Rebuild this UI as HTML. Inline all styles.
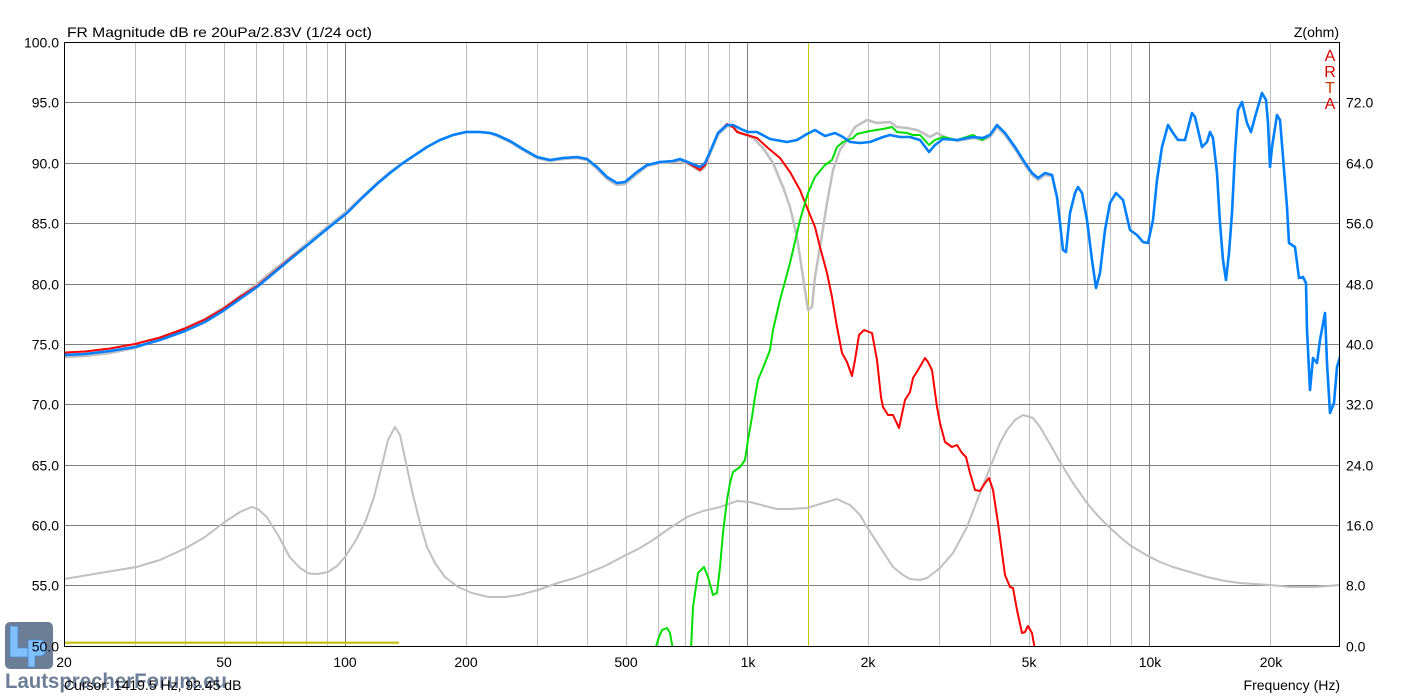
<!DOCTYPE html>
<html><head><meta charset="utf-8"><style>
html,body{margin:0;padding:0;background:#fff;}
svg{display:block;}
text{font-family:"Liberation Sans",Arial,sans-serif;}
</style></head><body>
<svg width="1404" height="697" viewBox="0 0 1404 697" xmlns="http://www.w3.org/2000/svg">
<defs><clipPath id="pc"><rect x="65" y="43" width="1275" height="603"/></clipPath></defs>
<rect width="1404" height="697" fill="#fff"/>
<!-- minor vertical grid -->
<g stroke="#c0c0c0" stroke-width="1">
<line x1="135.5" y1="43" x2="135.5" y2="646"/><line x1="185.5" y1="43" x2="185.5" y2="646"/><line x1="224.5" y1="43" x2="224.5" y2="646"/><line x1="256.5" y1="43" x2="256.5" y2="646"/><line x1="283.5" y1="43" x2="283.5" y2="646"/><line x1="306.5" y1="43" x2="306.5" y2="646"/><line x1="327.5" y1="43" x2="327.5" y2="646"/>
<line x1="466.5" y1="43" x2="466.5" y2="646"/><line x1="537.5" y1="43" x2="537.5" y2="646"/><line x1="587.5" y1="43" x2="587.5" y2="646"/><line x1="626.5" y1="43" x2="626.5" y2="646"/><line x1="658.5" y1="43" x2="658.5" y2="646"/><line x1="685.5" y1="43" x2="685.5" y2="646"/><line x1="708.5" y1="43" x2="708.5" y2="646"/><line x1="729.5" y1="43" x2="729.5" y2="646"/>
<line x1="868.5" y1="43" x2="868.5" y2="646"/><line x1="939.5" y1="43" x2="939.5" y2="646"/><line x1="990.5" y1="43" x2="990.5" y2="646"/><line x1="1029.5" y1="43" x2="1029.5" y2="646"/><line x1="1060.5" y1="43" x2="1060.5" y2="646"/><line x1="1087.5" y1="43" x2="1087.5" y2="646"/><line x1="1110.5" y1="43" x2="1110.5" y2="646"/><line x1="1131.5" y1="43" x2="1131.5" y2="646"/>
<line x1="1270.5" y1="43" x2="1270.5" y2="646"/>
</g>
<g stroke="#808080" stroke-width="1">
<line x1="345.5" y1="43" x2="345.5" y2="646"/><line x1="747.5" y1="43" x2="747.5" y2="646"/><line x1="1149.5" y1="43" x2="1149.5" y2="646"/>
<line x1="65" y1="102.5" x2="1340" y2="102.5"/><line x1="65" y1="163.5" x2="1340" y2="163.5"/><line x1="65" y1="223.5" x2="1340" y2="223.5"/><line x1="65" y1="284.5" x2="1340" y2="284.5"/><line x1="65" y1="344.5" x2="1340" y2="344.5"/><line x1="65" y1="404.5" x2="1340" y2="404.5"/><line x1="65" y1="465.5" x2="1340" y2="465.5"/><line x1="65" y1="525.5" x2="1340" y2="525.5"/><line x1="65" y1="585.5" x2="1340" y2="585.5"/>
</g>
<!-- cursor lines -->
<line x1="808.5" y1="43" x2="808.5" y2="646" stroke="#c8c800" stroke-width="1"/>
<line x1="65" y1="642.7" x2="399" y2="642.7" stroke="#c0c000" stroke-width="2.2"/>
<g clip-path="url(#pc)" fill="none" stroke-linejoin="round" stroke-linecap="round">
<!-- impedance -->
<polyline stroke="#c0c0c0" stroke-width="2" points="64,579 100,573 136.5,567 160,560 186,548 205,537 224.6,522 240,512 251.4,507 258,509 266.7,517 278,535 289.6,557 300,568 308.8,573.5 318,574 328,572 337,566 345,557 356,540 366,520 374,497 381.5,467 388,440 395,427 400,435 406,463 413,495 420,523 427,547 435,563 445,577 458,587 472,593 488.6,597 505,597 519,595 538,590 557.5,583 575,578 588,573 605,566 626,555 640,548 653,540 670,528 687,517 703,511 720,507 737,501 750,502 765,506 777,509 790,509 807,508 820,504 837,499 850,505 860,515 867,527 880,547 893,567 903,575 910,579 920,580 927,578 940,568 953,553 967,527 980,493 993,460 1000,443 1007,430 1015,420 1023,415 1033,418 1040,427 1050,444 1060,462 1073,483 1087,503 1098,516 1109,527 1120,537 1131,546 1148,556 1160,562 1173,567 1190,572 1207,577 1225,581 1240,583 1270,585 1290,587 1315,587 1340,585"/>
<!-- gray FR (reverse) -->
<polyline stroke="#c0c0c0" stroke-width="2.5" points="64,357 85,356 110,353 135,348 160,339 185,328 205,319 223,308 240,296 257,284 275,269 293,255 310,241 327,227 347,211 362,197 377,183 390,172 403,163 415,155 427,147 440,140 453,135 466,132 480,132 490,133 497,136 510,142 523,150 537,158 550,161 563,159 577,158 587,160 597,169 607,179 617,185 625,184 637,174 647,166 660,163 673,162 680,161 690,165 700,171 705,167 710,154 718,135 727,126 733,127 740,133 753,138 763,148 773,163 783,187 790,207 797,237 803,277 808,310 812,307 815,277 820,247 827,203 833,170 840,150 847,140 855,127 867,120 877,123 890,122 897,127 907,128 917,130 923,133 930,137 937,133 945,137 957,141 973,138 983,140 990,137 997,127 1005,135 1015,149 1025,165 1032,175 1038,180 1045,175 1052,176 1057,198"/>
<!-- red -->
<polyline stroke="#ff0000" stroke-width="2" points="64,352.5 85,351.5 110,348.5 135,344 160,337.5 185,328.5 205,319.5 223,309 240,297 257,286 275,271 293,256 310,243 327,229 347,213 362,198 377,184 390,173 403,163 415,155 427,147 440,140 453,135 466,132 480,132 490,133 497,135 510,141 523,149 537,157 550,160 563,158 577,157 587,159 597,167 607,177 617,183 625,182 637,172 647,165 660,162 673,161 680,159 690,164 700,170 705,165 710,152 718,133 727,124 733,127 737,132 747,135 757,138 768,148 780,158 790,172 800,190 808,210 815,227 820,247 827,273 832,297 837,327 842,353 847,362 852,376 855,360 859,335 864,330 872,333 877,360 881,397 883,407 888,415 893,415 899,428 905,400 910,392 913,378 918,370 925,358 928,362 932,370 937,407 940,423 945,442 952,447 957,445 962,453 966,457 970,473 975,490 980,491 985,483 989,478 993,490 998,523 1005,575 1010,587 1013,588 1017,610 1022,633 1025,632 1028,626 1032,633 1035,650"/>
<!-- green -->
<polyline stroke="#00e000" stroke-width="2" points="655,650 659,637 662,630 667,628 670,633 673,650"/>
<polyline stroke="#00e000" stroke-width="2" points="691,650 693,607 698,573 704,567 708,577 713,595 717,593 720,567 723,533 727,500 730,483 733,472 740,467 745,460 748,440 752,417 755,397 758,380 765,363 770,350 773,330 780,300 790,263 800,220 808,193 815,177 825,165 832,160 837,147 843,142 853,138 857,134 870,131 883,129 892,127 897,132 907,133 913,135 920,135 929,145 935,140 943,137 957,140 973,135 982,140 990,135 997,125 1005,133 1015,147 1025,163 1032,173 1038,178 1045,173 1052,175 1057,197"/>
<!-- blue -->
<polyline stroke="#0080ff" stroke-width="2.6" points="64,355 85,354 110,351 135,347 160,340 185,331 205,322 223,311 240,299 257,287 275,272 293,257 310,243 327,229 347,213 362,198 377,184 390,173 403,163 415,155 427,147 440,140 453,135 466,132 480,132 490,133 497,135 510,141 523,149 537,157 550,160 563,158 577,157 587,159 597,167 607,177 617,183 625,182 637,172 647,165 660,162 673,161 680,159 690,163 700,167 705,163 710,152 718,133 727,125 733,125 743,130 748,132 757,132 770,139 787,142 797,140 807,134 815,130 825,136 835,133 843,137 850,142 860,143 870,142 883,137 890,135 900,137 910,137 920,140 929,152 935,145 943,139 957,140 973,137 983,138 990,135 997,125 1005,133 1015,147 1025,163 1032,173 1038,178 1045,173 1052,175 1057,197 1060,223 1063,250 1066,252 1070,213 1075,193 1078,187 1082,193 1087,220 1092,260 1096,288 1100,273 1105,230 1110,203 1116,193 1123,200 1130,230 1137,235 1143,242 1148,243 1153,220 1157,180 1162,147 1168,125 1173,133 1178,140 1185,140 1192,113 1195,117 1202,147 1207,142 1210,132 1213,138 1217,173 1220,223 1223,260 1226,280 1229,253 1232,213 1235,153 1238,110 1242,102 1247,123 1251,132 1255,117 1262,93 1266,100 1268,123 1270,167 1272,147 1277,115 1280,120 1283,157 1287,207 1289,243 1295,247 1299,278 1303,277 1306,283 1307,330 1310,390 1313,358 1317,363 1320,340 1325,313 1327,363 1330,413 1334,403 1337,367 1340,357"/>
</g>
<!-- border -->
<rect x="64.5" y="42.5" width="1275" height="604" fill="none" stroke="#000" stroke-width="1"/>
<!-- logo -->
<rect x="5" y="622" width="48" height="47" rx="5" fill="#6c7d96"/>
<path d="M10,626 H18 V648 H28 V657 H10 Z" fill="#80c0ff" stroke="#4a88cc" stroke-width="0.8"/>
<path d="M28,640 H40 Q46,640 46,648 Q46,656 40,656 H35 V667 H28 Z" fill="#80c0ff" stroke="#4a88cc" stroke-width="0.8"/>
<text x="5" y="688" font-size="21" font-weight="bold" fill="#6c7d96" textLength="222" lengthAdjust="spacingAndGlyphs">LautsprecherForum.eu</text>
<!-- title -->
<text x="67" y="37" font-size="14" fill="#000" textLength="305" lengthAdjust="spacingAndGlyphs">FR Magnitude dB re 20uPa/2.83V (1/24 oct)</text>
<text x="1339" y="37" font-size="14" fill="#000" text-anchor="end">Z(ohm)</text>
<g font-size="16" text-anchor="middle">
<text x="1330" y="61" fill="#d40000">A</text>
<text x="1330" y="77" fill="#d40000">R</text>
<text x="1330" y="93" fill="#c83c00">T</text>
<text x="1330" y="109" fill="#d40000">A</text>
</g>
<!-- left labels -->
<g font-size="14" fill="#000" text-anchor="end">
<text x="59" y="47.5">100.0</text>
<text x="59" y="107.5">95.0</text>
<text x="59" y="168.5">90.0</text>
<text x="59" y="228.5">85.0</text>
<text x="59" y="289.5">80.0</text>
<text x="59" y="349.5">75.0</text>
<text x="59" y="409.5">70.0</text>
<text x="59" y="470.5">65.0</text>
<text x="59" y="530.5">60.0</text>
<text x="59" y="590.5">55.0</text>
<text x="59" y="651.5">50.0</text>
</g>
<!-- right labels -->
<g font-size="14" fill="#000">
<text x="1346" y="107.5">72.0</text>
<text x="1346" y="168.5">64.0</text>
<text x="1346" y="228.5">56.0</text>
<text x="1346" y="289.5">48.0</text>
<text x="1346" y="349.5">40.0</text>
<text x="1346" y="409.5">32.0</text>
<text x="1346" y="470.5">24.0</text>
<text x="1346" y="530.5">16.0</text>
<text x="1346" y="590.5">8.0</text>
<text x="1346" y="651.5">0.0</text>
</g>
<!-- x labels -->
<g font-size="14" fill="#000" text-anchor="middle">
<text x="64" y="667">20</text>
<text x="224" y="667">50</text>
<text x="345" y="667">100</text>
<text x="466" y="667">200</text>
<text x="626" y="667">500</text>
<text x="748" y="667">1k</text>
<text x="868" y="667">2k</text>
<text x="1029" y="667">5k</text>
<text x="1150" y="667">10k</text>
<text x="1271" y="667">20k</text>
</g>
<text x="64" y="690" font-size="14" fill="#000">Cursor: 1419.5 Hz, 92.45 dB</text>
<text x="1340" y="690" font-size="14" fill="#000" text-anchor="end">Frequency (Hz)</text>
</svg>
</body></html>
